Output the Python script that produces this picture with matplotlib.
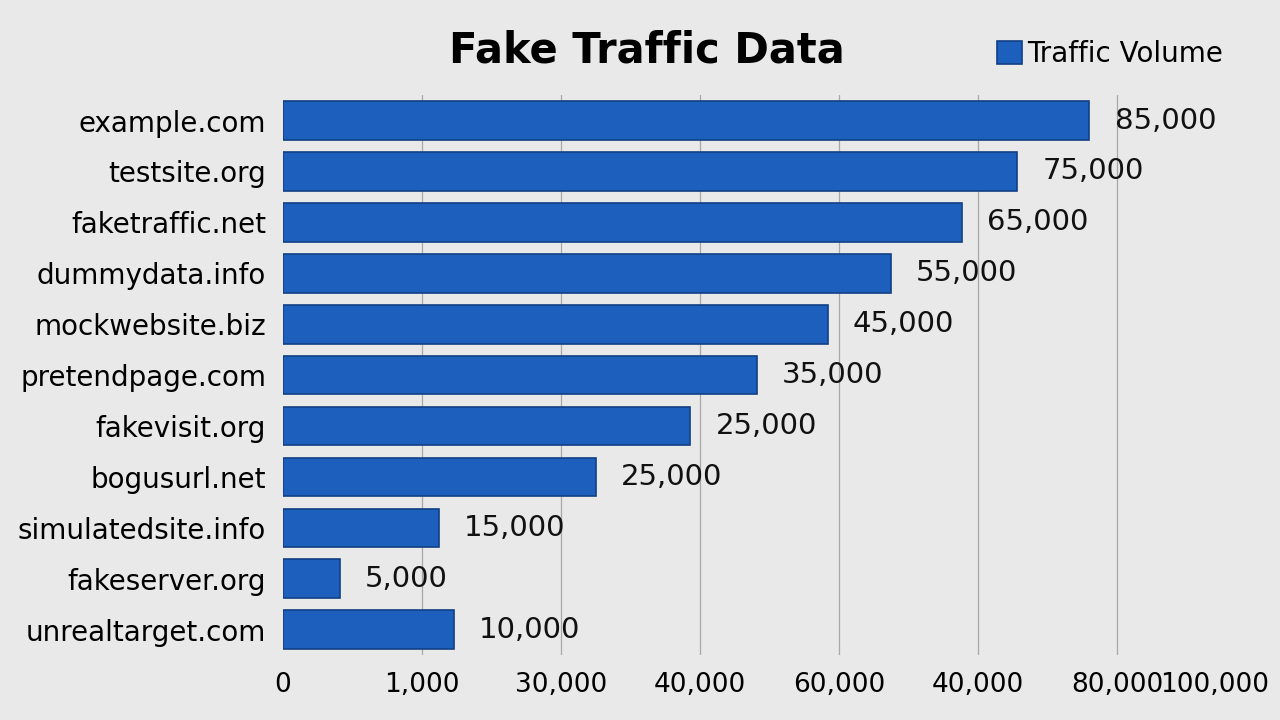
import matplotlib
matplotlib.use("Agg")
import matplotlib.pyplot as plt

sites = ["example.com", "testsite.org", "faketraffic.net", "dummydata.info", "mockwebsite.biz",
         "pretendpage.com", "fakevisit.org", "bogusurl.net", "simulatedsite.info",
         "fakeserver.org", "unrealtarget.com"]
labels = ["85,000", "75,000", "65,000", "55,000", "45,000", "35,000", "25,000", "25,000",
          "15,000", "5,000", "10,000"]
# bar lengths as drawn, in axis grid units (one grid step per tick)
lengths = [5.80, 5.28, 4.88, 4.37, 3.92, 3.41, 2.93, 2.25, 1.12, 0.41, 1.23]
tick_pos = [0, 1, 2, 3, 4, 5, 6, 6.7]
tick_labels = ["0", "1,000", "30,000", "40,000", "60,000", "40,000", "80,000", "100,000"]

fig = plt.figure(figsize=(12.8, 7.2), dpi=100)
fig.patch.set_facecolor("#e9e9e9")
ax = fig.add_axes([0.221, 0.09, 0.779, 0.778])
ax.set_facecolor("#e9e9e9")

y = list(range(len(sites)))
ax.barh(y, lengths, height=0.76, color="#1c5fbd", edgecolor="#123f85", linewidth=1.2,
        label="Traffic Volume", zorder=3)
for yi, l, t in zip(y, lengths, labels):
    ax.text(l + 0.18, yi, t, va="center", ha="left", fontsize=21, color="#111111")

ax.set_ylim(len(sites) - 0.5, -0.5)
ax.set_xlim(0, 7.17)
ax.set_yticks(y)
ax.set_yticklabels(sites, fontsize=20)
ax.set_xticks(tick_pos)
ax.set_xticklabels(tick_labels, fontsize=19)
ax.tick_params(length=0, pad=12)
for s in ax.spines.values():
    s.set_visible(False)
for p in tick_pos[1:-1]:
    ax.axvline(p, color="#a8a8a8", linewidth=0.9, zorder=1)

fig.text(0.505, 0.93, "Fake Traffic Data", ha="center", va="center", fontsize=30, fontweight="bold")
fig.legend(loc="center right", bbox_to_anchor=(0.975, 0.925), frameon=False, fontsize=20,
           handlelength=0.9, handleheight=0.9, handletextpad=0.2)
fig.savefig("out.png", dpi=100, facecolor=fig.get_facecolor())
